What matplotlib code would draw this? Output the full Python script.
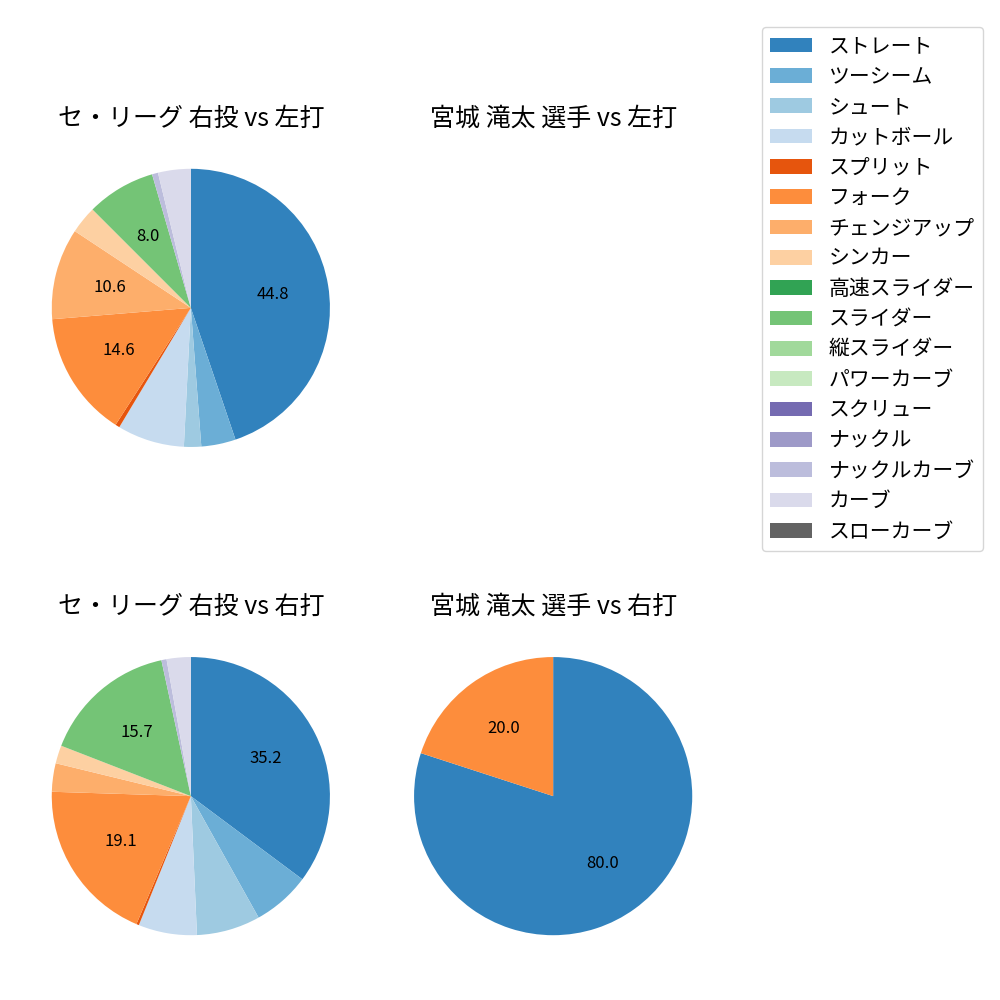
import matplotlib.pyplot as plt
from matplotlib.patches import Patch
import numpy as np

plt.rcParams['font.family'] = ['Noto Sans CJK JP', 'DejaVu Sans']

pitch_types = ['ストレート', 'ツーシーム', 'シュート', 'カットボール', 'スプリット',
               'フォーク', 'チェンジアップ', 'シンカー', '高速スライダー', 'スライダー',
               '縦スライダー', 'パワーカーブ', 'スクリュー', 'ナックル', 'ナックルカーブ',
               'カーブ', 'スローカーブ']

# percentages per pitch type (same order as pitch_types)
league_vs_left = [44.8, 4.0, 2.0, 7.8, 0.5, 14.6, 10.6, 3.2, 0, 8.0,
                  0, 0, 0, 0, 0.7, 3.8, 0]
league_vs_right = [35.2, 6.7, 7.4, 6.8, 0.3, 19.1, 3.3, 2.1, 0, 15.7,
                   0, 0, 0, 0, 0.6, 2.8, 0]
player_vs_left = []
player_vs_right = [80.0, 0, 0, 0, 0, 20.0, 0, 0, 0, 0,
                   0, 0, 0, 0, 0, 0, 0]

titles = ['セ・リーグ 右投 vs 左打', '宮城 滝太 選手 vs 左打',
          'セ・リーグ 右投 vs 右打', '宮城 滝太 選手 vs 右打']

colors = plt.cm.tab20c(np.arange(len(pitch_types)))


def draw_pie(ax, values, title):
    ax.set_title(title, fontsize=18)
    if len(values) == 0:
        ax.axis('off')
        return
    vals = [v for v in values if v > 0]
    cols = [colors[i] for i, v in enumerate(values) if v > 0]
    ax.pie(vals, colors=cols, startangle=90, counterclock=False,
           autopct=lambda p: f'{p:.1f}' if p >= 7.95 else '',
           textprops={'fontsize': 12})


fig, axes = plt.subplots(2, 2, figsize=(10, 10))
plt.subplots_adjust(left=0.017, right=0.727, top=0.866, bottom=0.030,
                    wspace=0.042, hspace=0.404)

draw_pie(axes[0, 0], league_vs_left, titles[0])
draw_pie(axes[0, 1], player_vs_left, titles[1])
draw_pie(axes[1, 0], league_vs_right, titles[2])
draw_pie(axes[1, 1], player_vs_right, titles[3])

handles = [Patch(facecolor=colors[i], label=name) for i, name in enumerate(pitch_types)]
fig.legend(handles=handles, loc='upper right', bbox_to_anchor=(0.983, 0.973),
           borderaxespad=0, fontsize=15, labelspacing=0.4)

plt.savefig('out.png', dpi=100)
